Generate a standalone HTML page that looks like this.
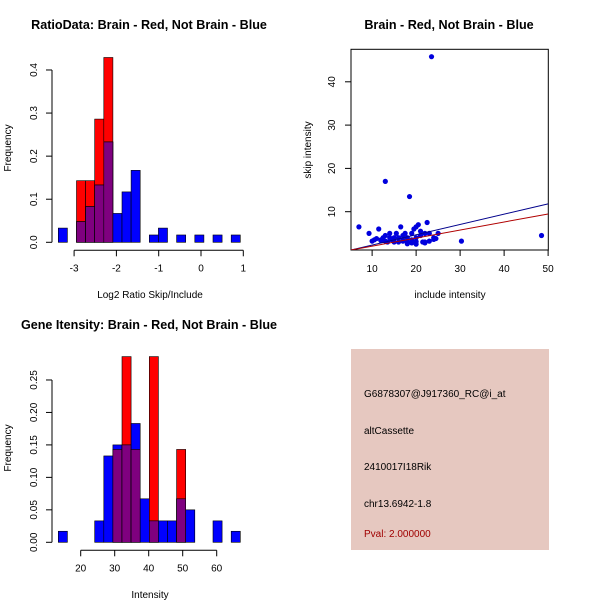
<!DOCTYPE html>
<html><head><meta charset="utf-8"><style>
body{margin:0;background:#fff}
svg{display:block;font-family:"Liberation Sans",sans-serif}
</style></head><body>
<svg id="c" width="600" height="600" viewBox="0 0 600 600">
<rect width="600" height="600" fill="#fff"/>
<text x="149" y="29" font-size="12.6" font-weight="bold" text-anchor="middle">RatioData: Brain - Red, Not Brain - Blue</text>
<text x="449" y="29" font-size="12.6" font-weight="bold" text-anchor="middle">Brain - Red, Not Brain - Blue</text>
<text x="149" y="329" font-size="12.6" font-weight="bold" text-anchor="middle">Gene Itensity: Brain - Red, Not Brain - Blue</text>
<text x="150" y="298" font-size="10" text-anchor="middle">Log2 Ratio Skip/Include</text>
<text x="150" y="598" font-size="10" text-anchor="middle">Intensity</text>
<text x="450" y="298" font-size="10" text-anchor="middle">include intensity</text>
<text transform="translate(11,148) rotate(-90)" font-size="10" text-anchor="middle">Frequency</text>
<text transform="translate(11,448) rotate(-90)" font-size="10" text-anchor="middle">Frequency</text>
<text transform="translate(311,150) rotate(-90)" font-size="10" text-anchor="middle">skip intensity</text>
<g>
<rect x="351" y="349" width="198" height="201" fill="#e6c8c0"/>
<text x="364" y="397" font-size="10" fill="#000">G6878307@J917360_RC@i_at</text>
<text x="364" y="434" font-size="10" fill="#000">altCassette</text>
<text x="364" y="470" font-size="10" fill="#000">2410017I18Rik</text>
<text x="364" y="507" font-size="10" fill="#000">chr13.6942-1.8</text>
<text x="364" y="537" font-size="10" fill="#a00000">Pval: 2.000000</text>
</g>
</svg>
<script>
// Ratio histogram data
const ratioRed  = [0,0,0.143,0.143,0.286,0.429,0,0,0,0,0,0,0,0,0,0,0,0,0,0];
const ratioBlue = [0.033,0,0.048,0.083,0.133,0.233,0.067,0.117,0.167,0,0.017,0.033,0,0.017,0,0.017,0,0.017,0,0.017];
const ratioTicks = [-3,-2,-1,0,1];
const ratioYTicks = [0,0.1,0.2,0.3,0.4];
// Gene intensity histogram data
const geneRed  = [0,0,0,0,0,0,0.143,0.286,0.143,0,0.286,0,0,0.143,0,0,0,0,0,0];
const geneBlue = [0.017,0,0,0,0.033,0.133,0.15,0.15,0.183,0.067,0.033,0.033,0.033,0.067,0.05,0,0,0.033,0,0.017];
const geneTicks = [20,30,40,50,60];
const geneYTicks = [0,0.05,0.10,0.15,0.20,0.25];
// Scatter data
const scatX = [7,9.3,10,10.5,11,11.5,12,12.5,13,13,13,13.5,14,14,14.5,15,15,15.5,16,16.5,16,17,17,17.5,18,18,18.5,19,19,19.5,20,20,20,20.5,21,21.5,22,22,22.5,23,23.5,23,24,24.5,25,30.3,48.5,21,15,17,19,22,18,20,24,12];
const scatY = [6.5,5,3.2,3.5,3.8,6,3.5,4,17,3.2,4.5,3,4,5,3.5,3,4,5,4,6.5,3,3.2,4.5,5,3,4,13.5,5,3.5,6,6.5,2.5,4,7,4.5,3,5,3,7.5,5,45.8,3.2,4,3.8,5,3.2,4.5,5.5,3.8,3.5,2.8,2.8,2.6,3.1,3.6,3.3];
const blueFit = [-0.09,0.238];
const redFit = [0.18,0.186];
const scatXTicks = [10,20,30,40,50];
const scatYTicks = [10,20,30,40];

const svg = document.getElementById('c');
const NS = 'http://www.w3.org/2000/svg';
function mk(tag, attrs, parent){const e=document.createElementNS(NS,tag);for(const k in attrs)e.setAttribute(k,attrs[k]);(parent||svg).appendChild(e);return e;}

function hist(red, blue, x0, bw, y0, ky, xScale, xTicks, yTicks, yFmt, prefix){
  const g = mk('g',{});
  
  
  for(let i=0;i<red.length;i++){
    const x = x0 + i*bw;
    const r = red[i], b = blue[i], m = Math.min(r,b);
    if(r>0){const e=mk('rect',{x:x,y:y0-r*ky,width:bw,height:r*ky,fill:'#ff0000',stroke:'#000','stroke-width':0.6},g);
      
      }
    if(b>0){const e=mk('rect',{x:x,y:y0-b*ky,width:bw,height:b*ky,fill:'#0000ff',stroke:'#000','stroke-width':0.6},g);
      
      }
    if(m>0){const e=mk('rect',{x:x,y:y0-m*ky,width:bw,height:m*ky,fill:'#7f007f',stroke:'#000','stroke-width':0.6},g);
      
      }
  }
  const ya = mk('g',{});
  
  
  const yt0 = y0 - yTicks[0]*ky, yt1 = y0 - yTicks[yTicks.length-1]*ky;
  mk('line',{x1:52,x2:52,y1:yt0,y2:yt1,stroke:'#000'},ya);
  yTicks.forEach(v=>{const y=y0-v*ky;mk('line',{x1:46,x2:52,y1:y,y2:y,stroke:'#000'},ya);
    const t=mk('text',{transform:`translate(37,${y}) rotate(-90)`,'font-size':10,'text-anchor':'middle'},ya);t.textContent=yFmt(v);});
  const xa = mk('g',{});
  
  
  const ay = y0+8;
  mk('line',{x1:xScale(xTicks[0]),x2:xScale(xTicks[xTicks.length-1]),y1:ay,y2:ay,stroke:'#000'},xa);
  xTicks.forEach(v=>{const x=xScale(v);mk('line',{x1:x,x2:x,y1:ay,y2:ay+6,stroke:'#000'},xa);
    const t=mk('text',{x:x,y:ay+21,'font-size':10,'text-anchor':'middle'},xa);t.textContent=String(v);});
}
hist(ratioRed, ratioBlue, 58.3, 9.1, 242.3, 430.8, v=>201+(v)*42.3, ratioTicks, ratioYTicks, v=>v.toFixed(1), 'ratio');
hist(geneRed, geneBlue, 58.3, 9.1, 542.3, 649.3, v=>80.7+(v-20)*3.4, geneTicks, geneYTicks, v=>v.toFixed(2), 'gene');

const sx = v=>351+(v-5.2)*4.4;
const sy = v=>255-v*4.33;
const sg = mk('g',{});


const frame = mk('rect',{x:351,y:49.3,width:197.3,height:200.7,fill:'none',stroke:'#000'},sg);


const clip = mk('clipPath',{id:'sc'},sg); mk('rect',{x:351,y:49.3,width:197.3,height:200.7},clip);
scatX.forEach((x,i)=>{const c=mk('circle',{cx:sx(x),cy:sy(scatY[i]),r:2.6,fill:'#0000dd'},sg);
  
  });
[[blueFit,'#00008b','blue-fit-line'],[redFit,'#b00000','red-fit-line']].forEach(([f,col,n])=>{
  const l=mk('line',{x1:sx(5.2),y1:sy(f[0]+f[1]*5.2),x2:sx(50),y2:sy(f[0]+f[1]*50),stroke:col,'stroke-width':1,'clip-path':'url(#sc)'},sg);
  
  });
scatXTicks.forEach(v=>{const x=sx(v);mk('line',{x1:x,x2:x,y1:250,y2:256,stroke:'#000'},sg);
  const t=mk('text',{x:x,y:272,'font-size':10,'text-anchor':'middle'},sg);t.textContent=String(v);});
scatYTicks.forEach(v=>{const y=sy(v);mk('line',{x1:345,x2:351,y1:y,y2:y,stroke:'#000'},sg);
  const t=mk('text',{transform:`translate(335,${y}) rotate(-90)`,'font-size':10,'text-anchor':'middle'},sg);t.textContent=String(v);});
</script>
</body></html>
